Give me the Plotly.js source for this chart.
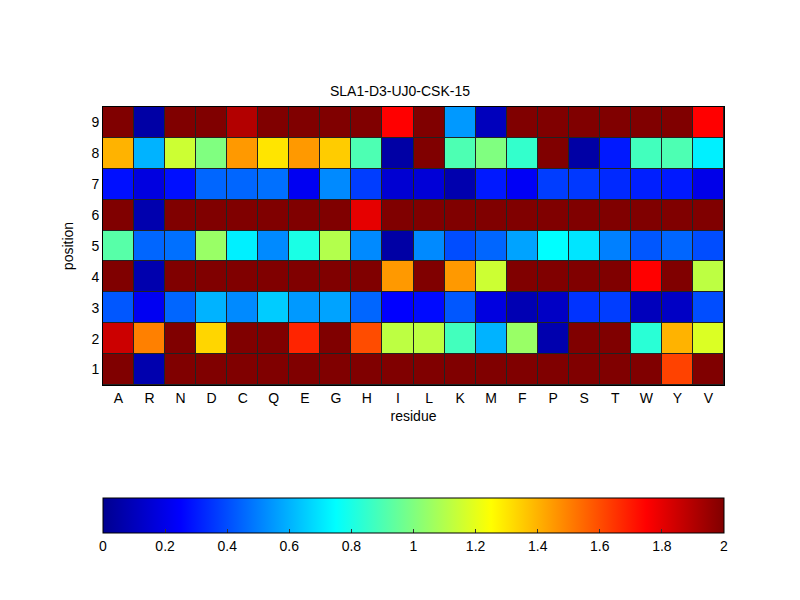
<!DOCTYPE html>
<html><head><meta charset="utf-8">
<script src="https://cdn.plot.ly/plotly-3.0.1.min.js"></script>
<style>body{margin:0;background:#fff}#c{width:800px;height:600px}</style>
</head><body><div id="c"></div>
<script>
const residues = ['A','R','N','D','C','Q','E','G','H','I','L','K','M','F','P','S','T','W','Y','V'];
const positions = [1,2,3,4,5,6,7,8,9];
const pos1 = [2,0.07,2,2,2,2,2,2,2,2,2,2,2,2,2,2,2,2,1.62,2];
const pos2 = [1.85,1.5,2,1.33,2,2,1.68,2,1.6,1.12,1.12,0.88,0.6,1.05,0.07,2,2,0.83,1.4,1.18];
const pos3 = [0.42,0.22,0.45,0.6,0.52,0.65,0.55,0.57,0.45,0.25,0.27,0.42,0.18,0.08,0.12,0.35,0.37,0.1,0.12,0.4];
const pos4 = [2,0.07,2,2,2,2,2,2,2,1.45,2,1.45,1.15,2,2,2,2,1.75,2,1.12];
const pos5 = [0.92,0.45,0.47,1.05,0.72,0.52,0.8,1.1,0.52,0.05,0.52,0.4,0.45,0.57,0.75,0.7,0.5,0.42,0.45,0.4];
const pos6 = [2,0.07,2,2,2,2,2,2,1.8,2,2,2,2,2,2,2,2,2,2,2];
const pos7 = [0.28,0.18,0.28,0.45,0.45,0.47,0.22,0.52,0.37,0.15,0.16,0.07,0.3,0.23,0.37,0.36,0.33,0.31,0.3,0.2];
const pos8 = [1.4,0.6,1.15,1.0,1.45,1.3,1.45,1.35,0.9,0.05,2,0.9,1.0,0.85,2,0.05,0.3,0.88,0.9,0.72];
const pos9 = [2,0.05,2,2,1.9,2,2,2,2,1.75,2,0.55,0.1,2,2,2,2,2,2,1.75];
const colorTicks = [0,0.2,0.4,0.6,0.8,1,1.2,1.4,1.6,1.8,2];
const chartTitle = 'SLA1-D3-UJ0-CSK-15';

const jet = [[0,'rgb(0,0,143)'],[0.125,'rgb(0,0,255)'],[0.375,'rgb(0,255,255)'],[0.625,'rgb(255,255,0)'],[0.875,'rgb(255,0,0)'],[1,'rgb(128,0,0)']];
const z = [pos1,pos2,pos3,pos4,pos5,pos6,pos7,pos8,pos9];
const font = {family:'"Liberation Sans", Arial, sans-serif', size:14, color:'#000'};

Plotly.newPlot('c', [{
  type:'heatmap', x:residues, y:positions, z:z,
  zmin:0, zmax:2, colorscale:jet, xgap:1, ygap:1,
  colorbar:{orientation:'h', x:0.5, xanchor:'center', len:1, lenmode:'fraction',
    y:-0.405, yanchor:'top', thickness:35, outlinecolor:'#000', outlinewidth:1,
    tickvals:colorTicks, ticktext:colorTicks.map(String), ticks:'inside', ticklen:4,
    tickcolor:'#333', tickfont:font, xpad:0, ypad:0}
}], {
  width:800, height:600,
  margin:{l:103, r:76, t:107, b:215},
  paper_bgcolor:'#fff', plot_bgcolor:'#222',
  font:font,
  title:{text:chartTitle, font:font, x:0.5, xanchor:'center', y:1-91/600, yanchor:'middle'},
  xaxis:{title:{text:'residue', font:font, standoff:6}, tickmode:'array', tickvals:residues,
    ticks:'', showline:true, linecolor:'#000', mirror:true, tickfont:font, showgrid:false, zeroline:false},
  yaxis:{title:{text:'position', font:font, standoff:14}, tickvals:positions, ticks:'',
    showline:true, linecolor:'#000', mirror:true, tickfont:font, showgrid:false, zeroline:false}
}, {displayModeBar:false});
</script></body></html>
